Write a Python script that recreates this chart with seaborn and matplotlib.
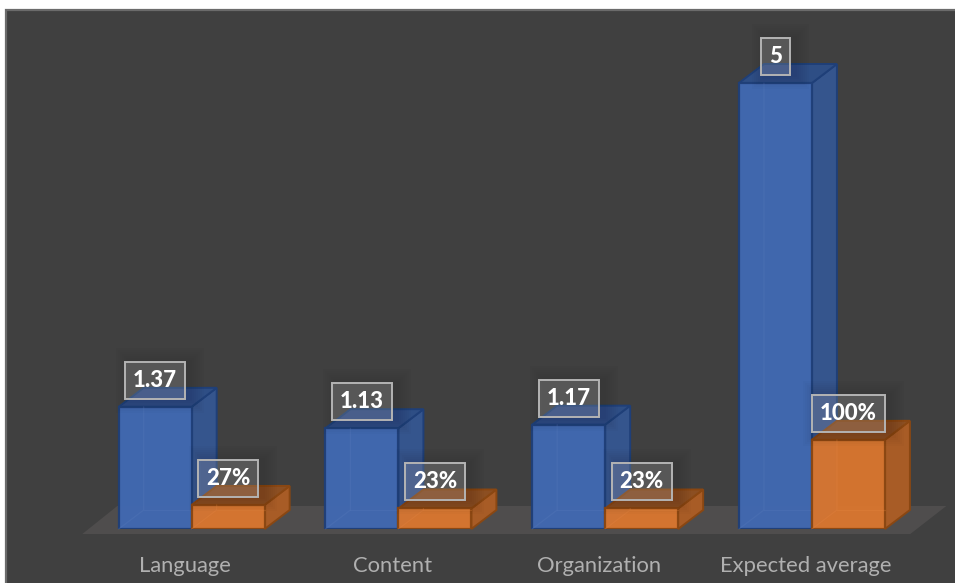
import matplotlib
matplotlib.use("Agg")
import matplotlib.pyplot as plt
import matplotlib.transforms as mtrans
from matplotlib.patches import Polygon, Rectangle
import pandas as pd
import seaborn as sns

categories = ["Language", "Content", "Organization", "Expected average"]
mean_scores = [1.37, 1.13, 1.17, 5]
percent_scores = [27, 23, 23, 100]
score_labels = ["1.37", "1.13", "1.17", "5"]
percent_labels = ["27%", "23%", "23%", "100%"]

W, H = 955, 583
BASE_Y = 529          # pixel row of the bar baseline, counted from the top
UNIT_PX = 89.2        # pixels per axis unit
DEPTH = (25, 19)      # oblique offset of the 3D faces, pixels

sns.set_theme(style="dark")
plt.rcParams["font.family"] = ["Lato", "DejaVu Sans"]

fig = plt.figure(figsize=(W / 100, H / 100), dpi=100, facecolor="white")
fig.add_artist(Rectangle((6 / W, -0.02), 1.0, (H - 10) / H + 0.02, transform=fig.transFigure,
                         facecolor="#404040", edgecolor="#6b6b6b", linewidth=1.6, zorder=-5))

ax = fig.add_axes([88.3 / W, (H - BASE_Y) / H, 827 / W, (BASE_Y - 10) / H])
ax.patch.set_visible(False)

df = pd.DataFrame({
    "category": categories * 2,
    "value": mean_scores + [p / 100 for p in percent_scores],
    "series": ["Mean"] * 4 + ["Percent"] * 4,
})
sns.barplot(data=df, x="category", y="value", hue="series", order=categories,
            palette={"Mean": "#4169b2", "Percent": "#d9762f"}, width=0.706, gap=0,
            dodge=True, legend=False, ax=ax, saturation=1)
ax.set_xlim(-0.5, 3.5)
ax.set_ylim(0, (BASE_Y - 10) / UNIT_PX)
ax.set_xlabel("")
ax.set_ylabel("")
ax.set_yticks([])
sns.despine(ax=ax, left=True, bottom=True)
ax.tick_params(axis="x", length=0, pad=19.3, labelsize=15.8, labelcolor="#b0b0b0")
shift = mtrans.ScaledTranslation(-6.3 / 100, 0, fig.dpi_scale_trans)
for t in ax.get_xticklabels():
    t.set_transform(t.get_transform() + shift)

display = mtrans.IdentityTransform()
fig.canvas.draw()


def add_face(points, z, **kw):
    ax.add_patch(Polygon(points, closed=True, transform=display, zorder=z, clip_on=False, **kw))


# Floor slab under the bars, tied to the axes extent
x_left = ax.transData.transform((-0.5, 0))[0]
x_right = ax.transData.transform((3.5, 0))[0]
y0 = ax.transData.transform((0, 0))[1]
add_face([(x_left - 6, y0 - 5), (x_right - 5, y0 - 5), (x_right + 31, y0 + 23), (x_left + 29, y0 + 23)],
         0.5, facecolor="#4f4d4d", edgecolor="none")

styles = [
    dict(side="#35558d", top="#2e4e85", edge="#1f3f78", inner="#5a7cbc"),
    dict(side="#a85c26", top="#8c4f22", edge="#8a4712", inner="#e8873f"),
]
dx, dy = DEPTH
tags = []
for s, (container, style, labels) in enumerate(zip(ax.containers, styles, [score_labels, percent_labels])):
    base_z = 2 + s * 3
    for bar, label in zip(container, labels):
        (x0, yb) = ax.transData.transform((bar.get_x(), 0))
        (x1, yt) = ax.transData.transform((bar.get_x() + bar.get_width(), bar.get_height()))
        add_face([(x1, yb), (x1 + dx, yb + dy), (x1 + dx, yt + dy), (x1, yt)], base_z,
                 facecolor=style["side"], edgecolor=style["edge"], linewidth=1.4)
        add_face([(x0, yt), (x1, yt), (x1 + dx, yt + dy), (x0 + dx, yt + dy)], base_z,
                 facecolor=style["top"], edgecolor=style["edge"], linewidth=1.4)
        bar.set_zorder(base_z + 0.5)
        bar.set_alpha(0.96)
        bar.set_edgecolor(style["edge"])
        bar.set_linewidth(1.6)
        # Hidden back edges showing faintly through the front face
        ax.plot([x0, x0 + dx, x0 + dx], [yb, yb + dy, yt], transform=display, color=style["inner"],
                lw=0.9, alpha=0.28, zorder=base_z + 0.7, clip_on=False)
        ax.plot([x0 + dx, x1], [yb + dy, yb + dy], transform=display, color=style["inner"],
                lw=0.9, alpha=0.28, zorder=base_z + 0.7, clip_on=False)
        # Value tag above the bar
        tags.append(ax.annotate(label, xy=((x0 + x1) / 2, yt), xycoords=display, xytext=(0, 26.5 * 0.72),
                                textcoords="offset points", ha="center", va="center", color="white",
                                fontsize=16, fontweight=900, zorder=10,
                                bbox=dict(boxstyle="square,pad=0.36", facecolor=(1, 1, 1, 0.16),
                                          edgecolor="#b4b4b4", linewidth=1.4)))

# Soft shadow around each tag, built from widening translucent rectangles
fig.canvas.draw()
for tag in tags:
    box = tag.get_bbox_patch().get_window_extent()
    for grow in range(2, 16, 2):
        ax.add_patch(Rectangle((box.x0 - grow + 5, box.y0 - grow), box.width + 2 * grow, box.height + 2 * grow,
                               transform=display, facecolor="black", alpha=0.014, edgecolor="none",
                               zorder=9, clip_on=False))

fig.savefig("out.png", dpi=100)
